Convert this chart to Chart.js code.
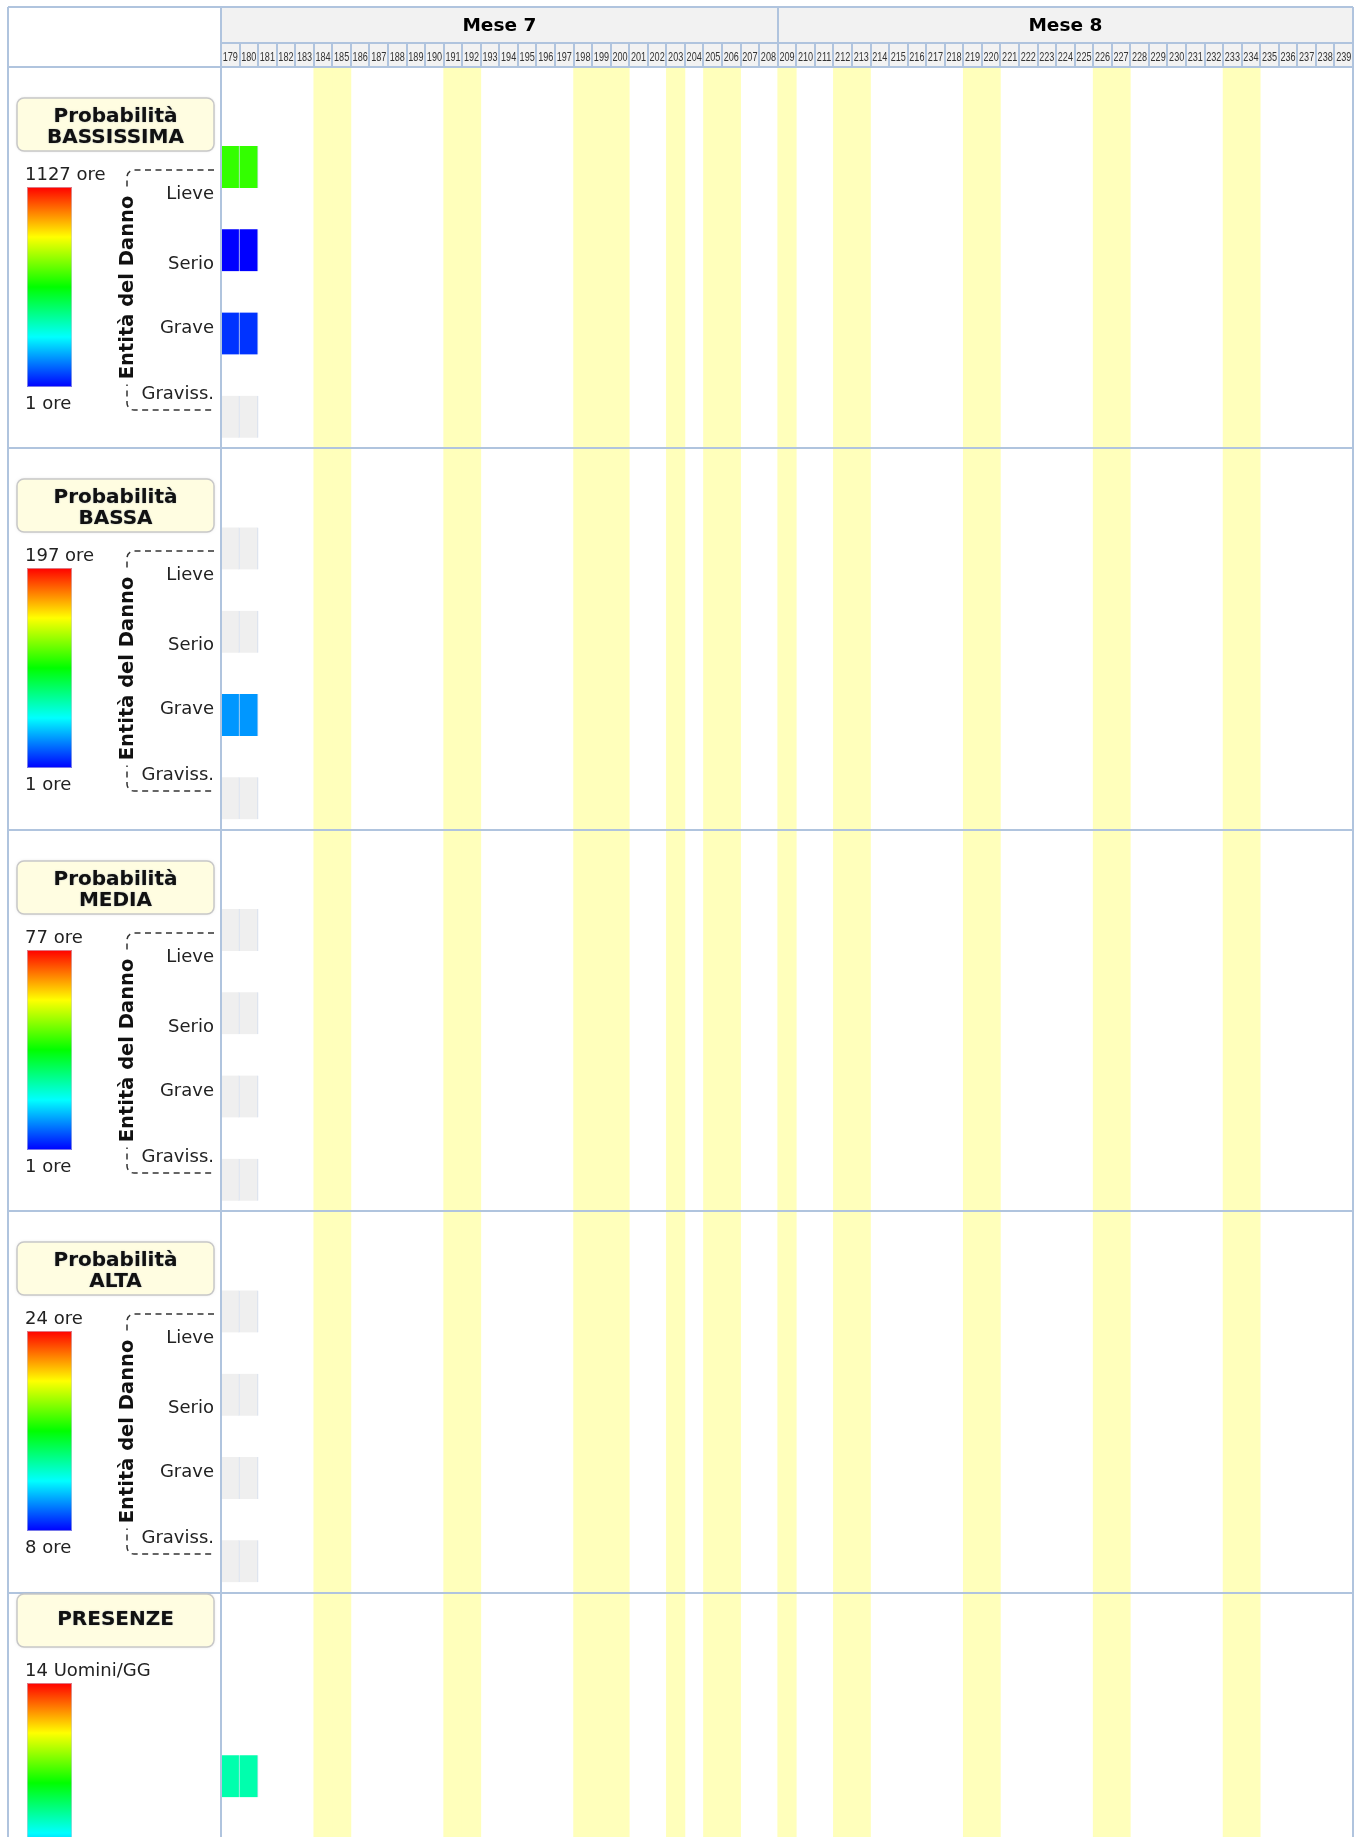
<!DOCTYPE html>
<html>
<head>
<meta charset="utf-8">
<title>Entità del Danno - Mese 7 / Mese 8</title>
<script src="https://cdn.jsdelivr.net/npm/chart.js@4.4.1/dist/chart.umd.min.js"></script>
<style>
    html, body { margin: 0; padding: 0; background: #fff; overflow: hidden; }
    canvas { display: block; }
</style>
</head>
<body>
<canvas id="heatChart" width="1362" height="1837"></canvas>
<script>
// --- data ---
const days = ['179', '180', '181', '182', '183', '184', '185', '186', '187', '188', '189', '190',
    '191', '192', '193', '194', '195', '196', '197', '198', '199', '200', '201', '202', '203', '204',
    '205', '206', '207', '208', '209', '210', '211', '212', '213', '214', '215', '216', '217', '218',
    '219', '220', '221', '222', '223', '224', '225', '226', '227', '228', '229', '230', '231', '232',
    '233', '234', '235', '236', '237', '238', '239'];
const months = ['Mese 7', 'Mese 8'];
const monthFirst = ['179', '209'];
const monthLast = ['208', '239'];
const holidays = ['184', '185', '191', '192', '198', '199', '200', '203', '205', '206', '209',
    '212', '213', '219', '220', '226', '227', '233', '234'];

const damageLevels = ['Lieve', 'Serio', 'Grave', 'Graviss.'];
const titleTop = ['Probabilità', 'Probabilità', 'Probabilità', 'Probabilità', 'PRESENZE'];
const titleBottom = ['BASSISSIMA', 'BASSA', 'MEDIA', 'ALTA', ''];
const scaleMax = [1127, 197, 77, 24, 14];
const scaleMin = [1, 1, 1, 8, 1];
const scaleUnit = ['ore', 'ore', 'ore', 'ore', 'Uomini/GG'];

// values per damage level, one per day in cellDays (0 = nessun dato)
const cellDays = ['179', '180'];
const bassissima = [[620, 620], [1, 1], [57, 57], [0, 0]];
const bassa = [[0, 0], [0, 0], [30, 30], [0, 0]];
const media = [[0, 0], [0, 0], [0, 0], [0, 0]];
const alta = [[0, 0], [0, 0], [0, 0], [0, 0]];
const presenze = [[5.3, 5.3]];

document.addEventListener('DOMContentLoaded', function () {

    const SECTION = 4.58;   // height of one block, in row units
    const FIRST = 0.948;    // offset of first row inside a block
    const CELL_H = 0.504;
    const YMAX = 21.25;
    const LINE = '#b0c4de';
    const FONT = '"DejaVu Sans", Verdana, sans-serif';
    const LABEL_BASE = [132, 202, 266, 332];

    const sections = [bassissima, bassa, media, alta, presenze];

    function heat(v, s) {
        if (!v) return '#efefef';
        let f = (v - scaleMin[s]) / (scaleMax[s] - scaleMin[s]);
        f = Math.max(0, Math.min(1, f));
        return 'hsl(' + (240 * (1 - f)) + ',100%,50%)';
    }

    // --- cells ---
    const cells = [];
    sections.forEach(function (rows, s) {
        rows.forEach(function (vals, r) {
            const slot = s === 4 ? 1 : r;
            const top = s * SECTION + FIRST + slot;
            vals.forEach(function (v, i) {
                cells.push({ x: cellDays[i], y: [top, top + CELL_H], v: v, s: s });
            });
        });
    });
    const holidayBars = holidays.map(function (d) { return { x: d, y: [0, YMAX] }; });

    function roundRect(ctx, x, y, w, h, r) {
        ctx.beginPath();
        ctx.moveTo(x + r, y);
        ctx.arcTo(x + w, y, x + w, y + h, r);
        ctx.arcTo(x + w, y + h, x, y + h, r);
        ctx.arcTo(x, y + h, x, y, r);
        ctx.arcTo(x, y, x + w, y, r);
        ctx.closePath();
    }

    function drawPanel(ctx, s, T) {
        const pres = s === 4;
        const boxTop = pres ? T + 1 : T + 31;

        // title box
        ctx.save();
        ctx.shadowColor = 'rgba(0,0,0,0.15)';
        ctx.shadowBlur = 3;
        roundRect(ctx, 17, boxTop, 197, 53, 7);
        ctx.fillStyle = '#fffde1';
        ctx.fill();
        ctx.restore();
        roundRect(ctx, 17, boxTop, 197, 53, 7);
        ctx.strokeStyle = '#c8c8c8';
        ctx.lineWidth = 1.5;
        ctx.stroke();

        ctx.save();
        ctx.fillStyle = '#111';
        ctx.shadowColor = 'rgba(90,110,150,0.55)';
        ctx.shadowBlur = 1.5;
        ctx.font = 'bold 20px ' + FONT;
        ctx.textAlign = 'center';
        ctx.textBaseline = 'alphabetic';
        if (titleBottom[s]) {
            ctx.fillText(titleTop[s], 115.5, boxTop + 24);
            ctx.fillText(titleBottom[s], 115.5, boxTop + 45);
        } else {
            ctx.fillText(titleTop[s], 115.5, boxTop + 31);
        }
        ctx.restore();

        // colour scale
        const barTop = pres ? T + 90 : T + 120;
        const grad = ctx.createLinearGradient(0, barTop, 0, barTop + 200);
        [0, 60, 120, 180, 240].forEach(function (h, i) {
            grad.addColorStop(i / 4, 'hsl(' + h + ',100%,50%)');
        });
        ctx.fillStyle = grad;
        ctx.fillRect(27, barTop, 45, 200);
        ctx.strokeStyle = 'rgba(200,200,220,0.6)';
        ctx.lineWidth = 1;
        ctx.strokeRect(27.5, barTop + 0.5, 44, 199);

        ctx.fillStyle = '#222';
        ctx.font = '18px ' + FONT;
        ctx.textAlign = 'left';
        ctx.fillText(scaleMax[s] + ' ' + scaleUnit[s], 25, barTop - 7);
        ctx.fillText(scaleMin[s] + ' ' + scaleUnit[s], 25, barTop + 222);

        if (pres) return;

        // dashed bracket
        ctx.save();
        ctx.setLineDash([6, 4.5]);
        ctx.strokeStyle = '#333';
        ctx.lineWidth = 1.5;
        ctx.beginPath();
        ctx.moveTo(214, T + 103);
        ctx.arcTo(127, T + 103, 127, T + 112, 7);
        ctx.arcTo(127, T + 343, 136, T + 343, 7);
        ctx.lineTo(214, T + 343);
        ctx.stroke();
        ctx.restore();

        // vertical axis title
        const cy = T + 220.5;
        ctx.fillStyle = '#fff';
        ctx.fillRect(111, cy - 97, 26, 194);
        ctx.save();
        ctx.translate(133, cy);
        ctx.rotate(-Math.PI / 2);
        ctx.fillStyle = '#111';
        ctx.font = 'bold 19.5px ' + FONT;
        ctx.textAlign = 'center';
        ctx.fillText('Entità del Danno', 0, 0);
        ctx.restore();

        // damage level labels
        ctx.fillStyle = '#222';
        ctx.font = '18px ' + FONT;
        ctx.textAlign = 'right';
        damageLevels.forEach(function (lab, i) {
            ctx.fillText(lab, 214, T + LABEL_BASE[i]);
        });
    }

    const framePlugin = {
        id: 'frame',
        afterDraw: function (chart) {
            const ctx = chart.ctx;
            const xs = chart.scales.x;
            const ys = chart.scales.y;
            const area = chart.chartArea;
            const H = chart.height;
            const colW = xs.width / days.length;
            const colLeft = function (d) { return xs.getPixelForValue(days.indexOf(d)) - colW / 2; };
            const hTop = 7, hMid = 43, hBot = area.top;

            ctx.save();
            // header background
            ctx.fillStyle = '#f2f2f2';
            ctx.fillRect(area.left, hTop, area.right - area.left, hBot - hTop);

            // month titles
            ctx.fillStyle = '#000';
            ctx.font = 'bold 18.5px ' + FONT;
            ctx.textAlign = 'center';
            ctx.textBaseline = 'alphabetic';
            months.forEach(function (m, i) {
                const l = colLeft(monthFirst[i]);
                const r = colLeft(monthLast[i]) + colW;
                ctx.fillText(m, (l + r) / 2, 31);
            });

            // day numbers
            ctx.fillStyle = '#333';
            ctx.font = '13px "Liberation Sans", Arial, sans-serif';
            ctx.textBaseline = 'middle';
            days.forEach(function (d, i) {
                const cx = xs.getPixelForValue(i);
                ctx.save();
                ctx.translate(cx, 57.5);
                ctx.scale(0.7, 1);
                ctx.fillText(d, 0, 0);
                ctx.restore();
            });
            ctx.textBaseline = 'alphabetic';

            // grid lines
            ctx.strokeStyle = LINE;
            ctx.lineWidth = 2;
            ctx.beginPath();
            ctx.moveTo(8, hTop); ctx.lineTo(area.right, hTop);
            ctx.moveTo(area.left, hMid); ctx.lineTo(area.right, hMid);
            days.forEach(function (d) {
                const l = Math.round(colLeft(d));
                ctx.moveTo(l, hMid); ctx.lineTo(l, hBot);
            });
            const mb = Math.round(colLeft(monthFirst[1]));
            ctx.moveTo(mb, hTop); ctx.lineTo(mb, hMid);
            for (let s = 0; s < sections.length; s++) {
                const yy = Math.round(ys.getPixelForValue(s * SECTION));
                ctx.moveTo(8, yy); ctx.lineTo(area.right, yy);
            }
            [8, area.left, area.right].forEach(function (xx) {
                ctx.moveTo(Math.round(xx), hTop); ctx.lineTo(Math.round(xx), H);
            });
            ctx.stroke();

            // left panel
            for (let s = 0; s < sections.length; s++) {
                drawPanel(ctx, s, Math.round(ys.getPixelForValue(s * SECTION)));
            }
            ctx.restore();
        }
    };

    const ctxHeat = document.getElementById('heatChart');
    if (ctxHeat) {
        new Chart(ctxHeat, {
            type: 'bar',
            data: {
                labels: days,
                datasets: [{
                    label: 'Ore',
                    data: cells,
                    order: 1,
                    grouped: false,
                    barPercentage: 1,
                    categoryPercentage: 1,
                    borderSkipped: false,
                    borderWidth: { top: 0, bottom: 0, left: 0, right: 1 },
                    borderColor: '#d0dced',
                    backgroundColor: function (c) { return c.raw ? heat(c.raw.v, c.raw.s) : '#efefef'; }
                }, {
                    label: 'Festivi',
                    data: holidayBars,
                    order: 2,
                    grouped: false,
                    barPercentage: 1,
                    categoryPercentage: 1,
                    borderWidth: 0,
                    backgroundColor: '#ffffbb'
                }]
            },
            options: {
                responsive: false,
                animation: false,
                layout: { padding: { left: 221, right: 9, top: 67, bottom: 0 } },
                plugins: {
                    legend: { display: false },
                    tooltip: { enabled: false }
                },
                scales: {
                    x: { type: 'category', display: false },
                    y: { type: 'linear', display: false, reverse: true, min: 0, max: YMAX }
                }
            },
            plugins: [framePlugin]
        });
    }
});
</script>
</body>
</html>
